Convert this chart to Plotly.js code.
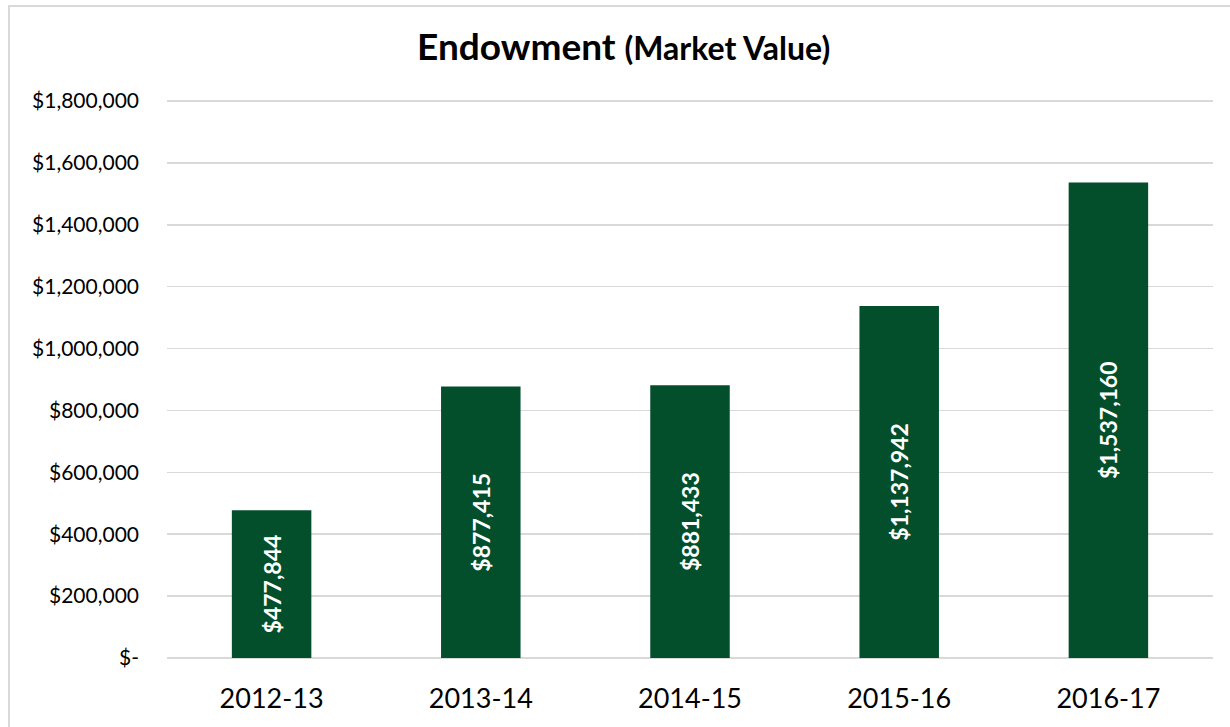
<!DOCTYPE html>
<html>
<head>
<meta charset="utf-8">
<script src="https://cdn.plot.ly/plotly-3.0.1.min.js"></script>
<style>
  html, body { margin: 0; padding: 0; background: #fff; overflow: hidden; }
  #chart { width: 1230px; height: 727px; position: absolute; left: 0; top: 0; }
  #frame { position: absolute; left: 8px; top: 5px; width: 1240px; height: 740px;
           border: 2px solid #d9d9d9; pointer-events: none; }
</style>
</head>
<body>
<div id="chart"></div>
<div id="frame"></div>
<script>
const categories = ["2012-13", "2013-14", "2014-15", "2015-16", "2016-17"];
const values = [477844, 877415, 881433, 1137942, 1537160];
const tickValues = [0, 200000, 400000, 600000, 800000, 1000000, 1200000, 1400000, 1600000, 1800000];
const tickLabels = ["$-", "$200,000", "$400,000", "$600,000", "$800,000", "$1,000,000", "$1,200,000", "$1,400,000", "$1,600,000", "$1,800,000"];
const barLabels = values.map(v => "$" + v.toLocaleString("en-US"));

const trace = {
  type: "bar",
  x: categories,
  y: values,
  text: barLabels,
  texttemplate: "<b>%{text}</b>",
  textposition: "inside",
  insidetextanchor: "middle",
  textangle: -90,
  constraintext: "none",
  textfont: { family: "Lato, sans-serif", size: 23, color: "#ffffff", weight: 900 },
  marker: { color: "#034F2C", line: { width: 0 } },
  hoverinfo: "none"
};

const layout = {
  width: 1230,
  height: 727,
  margin: { l: 167, r: 17, t: 98, b: 69 },
  paper_bgcolor: "#ffffff",
  plot_bgcolor: "#ffffff",
  bargap: 0.62,
  showlegend: false,
  title: {
    text: "<b>Endowment <span style='font-size:32px'>(Market Value)</span></b>",
    font: { family: "Lato, sans-serif", size: 37, color: "#000000" },
    x: 0.507, xref: "container", xanchor: "center",
    y: 0.935, yref: "container", yanchor: "middle"
  },
  xaxis: {
    type: "category",
    tickfont: { family: "Lato, sans-serif", size: 27, color: "#000000" },
    ticks: "",
    ticklabelstandoff: 22,
    showgrid: false,
    showline: false,
    zeroline: false
  },
  yaxis: {
    range: [0, 1810000],
    tickmode: "array",
    tickvals: tickValues,
    ticktext: tickLabels,
    tickfont: { family: "Lato, sans-serif", size: 21, color: "#000000" },
    ticks: "",
    ticklabelstandoff: 27,
    showgrid: true,
    gridcolor: "#d9d9d9",
    gridwidth: 1.5,
    zeroline: true,
    zerolinecolor: "#d9d9d9",
    zerolinewidth: 1.5,
    showline: false
  }
};

Plotly.newPlot("chart", [trace], layout, { staticPlot: true, displayModeBar: false });
</script>
</body>
</html>
